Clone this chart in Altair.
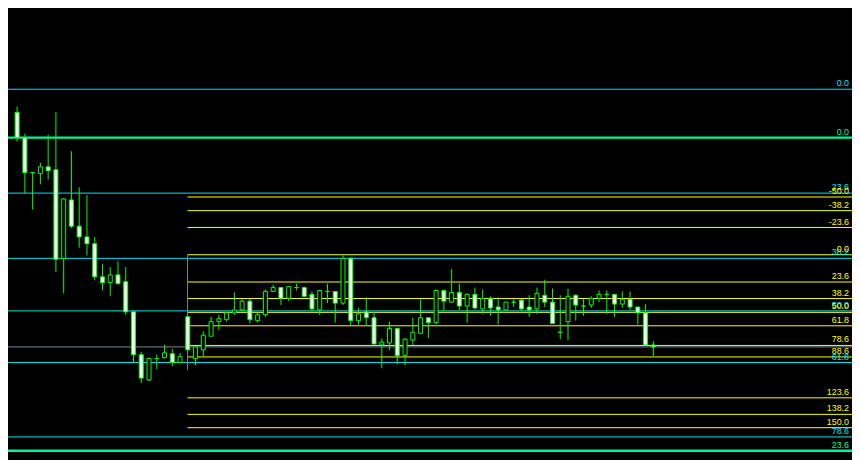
import altair as alt
import pandas as pd

# ---- candle data (price in chart points, higher = higher price) ----
open_ = [355, 329, 293, 292, 299, 296, 205, 265, 238, 227, 220, 186, 180, 188, 181, 150, 106, 80, 102, 103,
         107, 98, 145, 102, 111, 125, 140, 142, 149, 152, 161, 141, 147, 171, 175, 164, 175, 175, 168, 152,
         171, 171, 159, 205, 141, 150, 144, 116, 118, 133, 105, 121, 128, 144, 139, 172, 160, 170, 156, 168,
         153, 164, 155, 152, 160, 162, 155, 153, 167, 160, 129, 140, 167, 156, 157, 164, 168, 168, 158, 163,
         155, 149, 116]
high = [361, 333, 294, 303, 332, 355, 267, 315, 278, 270, 227, 199, 196, 202, 196, 150, 109, 103, 106, 116,
        112, 108, 146, 114, 130, 145, 147, 149, 170, 163, 163, 149, 173, 178, 175, 176, 179, 176, 171, 172,
        179, 171, 208, 206, 154, 165, 150, 123, 140, 133, 123, 144, 163, 144, 173, 173, 194, 179, 169, 175,
        173, 166, 165, 160, 163, 163, 167, 175, 183, 174, 167, 174, 168, 163, 166, 172, 172, 168, 171, 171,
        155, 158, 120]
low = [325, 272, 255, 281, 286, 191, 169, 236, 216, 208, 183, 172, 166, 178, 147, 98, 77, 79, 91, 102,
       94, 98, 110, 95, 104, 125, 131, 140, 147, 151, 138, 139, 145, 171, 157, 161, 172, 166, 151, 147,
       159, 139, 157, 136, 137, 136, 117, 92, 111, 96, 95, 116, 128, 123, 137, 151, 159, 152, 139, 153,
       148, 146, 137, 151, 155, 151, 145, 148, 155, 138, 122, 121, 141, 146, 154, 160, 148, 145, 154, 152,
       137, 116, 104]
close = [329, 293, 293, 299, 295, 204, 266, 238, 227, 220, 186, 180, 188, 179, 150, 106, 82, 102, 102, 108,
         98, 104, 111, 114, 126, 140, 143, 149, 152, 161, 142, 147, 171, 175, 164, 176, 175, 166, 153, 172,
         171, 159, 205, 141, 148, 144, 117, 119, 133, 105, 122, 129, 144, 139, 172, 161, 170, 156, 168, 154,
         164, 154, 152, 160, 160, 153, 152, 169, 160, 138, 129, 166, 157, 156, 164, 168, 168, 158, 163, 155,
         149, 116, 114]

# ---- level lines ----
cyan_levels = ["0.0", "23.6", "38.2", "50.0", "61.8", "78.6"]
cyan_prices = [378.7, 272, 205, 151, 98, 21.5]
green_levels = ["0.0", "23.6"]
green_prices = [329, 7.3]
yellow_levels = ["-50.0", "-38.2", "-23.6", "0.0", "23.6", "38.2", "50.0", "61.8", "78.6", "88.6",
                 "123.6", "138.2", "150.0"]
yellow_prices = [268, 254, 236.7, 208.7, 180.7, 163.7, 149.5, 135.7, 115.5, 103.7, 61.7, 44.7, 31]
yellow_start = [21.96]
yellow_anchor = [208.7, 90]
bid_price = [114]

W, H = 852, 452
xscale = alt.Scale(domain=[-0.5375, 106.9625], nice=False, zero=False)
yscale = alt.Scale(domain=[0, 460], nice=False, zero=False)

candles = pd.DataFrame({
    "i": list(range(len(open_))),
    "open": open_, "high": high, "low": low, "close": close,
})
cyan = pd.DataFrame({"level": cyan_levels, "price": cyan_prices})
green = pd.DataFrame({"level": green_levels, "price": green_prices})
yellow = pd.DataFrame({"level": yellow_levels, "price": yellow_prices,
                       "x": yellow_start * len(yellow_levels)})
anchor = pd.DataFrame({"x": yellow_start, "p1": [yellow_anchor[0]], "p2": [yellow_anchor[1]]})
bid = pd.DataFrame({"price": bid_price})

CYAN = "#00E5EE"
GREEN = "#00F59A"
YELLOW = "#FFFF00"
LIME = "#00FF00"

Y = lambda f: alt.Y(f, type="quantitative", scale=yscale, axis=None)
X = lambda f: alt.X(f, type="quantitative", scale=xscale, axis=None)

cyan_rules = alt.Chart(cyan).mark_rule(color=CYAN, strokeWidth=1).encode(y=Y("price"))
green_rules = alt.Chart(green).mark_rule(color=GREEN, strokeWidth=2.5).encode(y=Y("price"))
bid_rule = alt.Chart(bid).mark_rule(color="#7A8898", strokeWidth=1).encode(y=Y("price"))
yellow_rules = alt.Chart(yellow).mark_rule(color=YELLOW, strokeWidth=1).encode(
    x=X("x"), x2=alt.value(W), y=Y("price"))
anchor_rule = alt.Chart(anchor).mark_rule(color="#808080", strokeWidth=1).encode(
    x=X("x"), y=Y("p1"), y2=alt.Y2("p2"))

wicks = alt.Chart(candles).mark_rule(color=LIME, strokeWidth=1).encode(
    x=X("i"), y=Y("low"), y2=alt.Y2("high"))
bodies = alt.Chart(candles).mark_bar(size=4, stroke=LIME, strokeWidth=1).encode(
    x=X("i"), y=Y("open"), y2=alt.Y2("close"),
    fill=alt.condition("datum.close > datum.open", alt.value("#000000"), alt.value("#FFFFFF")))

def labels(df, color):
    return alt.Chart(df).mark_text(align="right", baseline="alphabetic", dy=-3,
                                   font="Liberation Sans", fontSize=9, color=color).encode(
        x=alt.value(W - 3), y=Y("price"), text="level:N")

chart = alt.layer(
    cyan_rules, green_rules, bid_rule, yellow_rules, anchor_rule,
    wicks, bodies,
    labels(cyan, CYAN), labels(green, GREEN), labels(yellow, YELLOW),
).properties(
    width=W, height=H, background="#000000", padding=0,
    autosize=alt.AutoSizeParams(type="none"),
).configure_view(stroke=None, fill="#000000")

chart.save("out.html", embed_options={"renderer": "svg", "actions": False})
